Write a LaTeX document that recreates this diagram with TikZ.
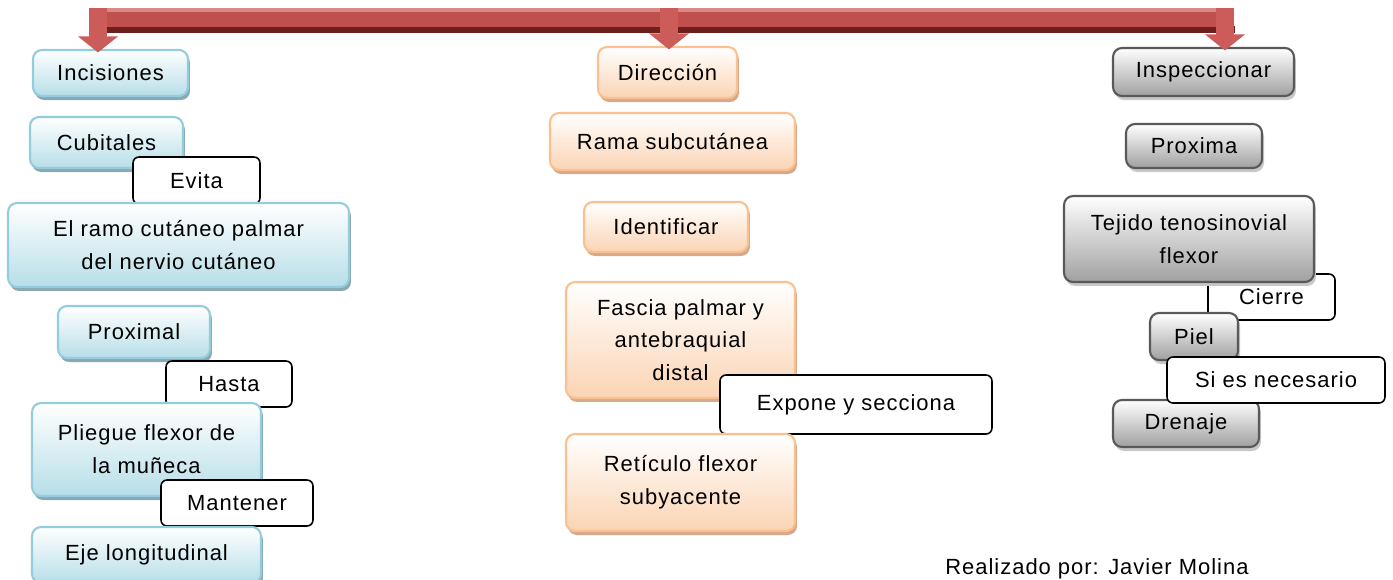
\documentclass[tikz,border=0pt]{standalone}
\usepackage{fontspec}
\setmainfont[LetterSpace=4.5]{Liberation Sans}
\usetikzlibrary{arrows.meta,shadows}
\definecolor{barred}{HTML}{C0504D}
\definecolor{bardark}{HTML}{6E1F1D}
\definecolor{barlight}{HTML}{D98A88}
\definecolor{stemred}{HTML}{CB5C59}
\definecolor{bluedraw}{HTML}{93CDDD}
\definecolor{bluefill}{HTML}{B7DEE8}
\definecolor{blueshadow}{HTML}{8AA8B2}
\definecolor{orangedraw}{HTML}{FAC08F}
\definecolor{orangefill}{HTML}{FBD4B4}
\definecolor{orangeshadow}{HTML}{D4A98C}
\definecolor{graydraw}{HTML}{595959}
\definecolor{grayfill}{HTML}{A0A0A0}
\definecolor{grayshadow}{HTML}{C8C8C8}

\begin{document}
\begin{tikzpicture}[x=0.02cm,y=-0.02cm]
\tikzset{every node/.style={font=\fontsize{12.5}{18.7}\selectfont, align=center, inner sep=0pt}}
\tikzset{bluebox/.style={draw=bluedraw, line width=1.2pt, rounded corners=0.18cm, top color=white, bottom color=bluefill,
        drop shadow={shadow xshift=0.04cm, shadow yshift=-0.08cm, fill=blueshadow, opacity=1}}}
\tikzset{orangebox/.style={draw=orangedraw, line width=1.2pt, rounded corners=0.18cm, top color=white, bottom color=orangefill,
        drop shadow={shadow xshift=0.04cm, shadow yshift=-0.08cm, fill=orangeshadow, opacity=1}}}
\tikzset{graybox/.style={draw=graydraw, line width=1.2pt, rounded corners=0.18cm, top color=white, bottom color=grayfill,
        drop shadow={shadow xshift=0.04cm, shadow yshift=-0.08cm, fill=grayshadow, opacity=1}}}
\tikzset{tagbox/.style={draw=black, line width=0.9pt, rounded corners=0.12cm, fill=white}}
\tikzset{stem/.style={stemred, line width=0.36cm, shorten >=-0.07cm, -{Triangle[width=0.78cm, length=0.32cm]}}}
        \useasboundingbox (0,0) rectangle (1393,579);

        \fill[bardark] (89,26) rectangle (1235,33);
        \fill[barred] (89,8) rectangle (1233,27);
        \fill[barlight] (89,8) rectangle (1233,12);
        \coordinate (sl) at (98,8);
        \coordinate (sm) at (669,8);
        \coordinate (sr) at (1225,8);

        \node[bluebox, minimum width=3.1cm, minimum height=0.92cm] (inc) at (110.5,73) {Incisiones};
        \node[bluebox, minimum width=3.06cm, minimum height=1.02cm] (cub) at (106.5,142.5) {Cubitales};
        \node[tagbox, minimum width=2.54cm, minimum height=0.94cm] (evita) at (196.5,180.5) {Evita};
        \node[bluebox, minimum width=6.82cm, minimum height=1.68cm] (ramo) at (178.5,245) {El ramo cutáneo palmar\\del nervio cutáneo};
        \node[bluebox, minimum width=3.04cm, minimum height=1.04cm] (prox) at (134,332) {Proximal};
        \node[tagbox, minimum width=2.52cm, minimum height=0.92cm] (hasta) at (229,384) {Hasta};
        \node[bluebox, minimum width=4.58cm, minimum height=1.86cm] (pliegue) at (146.5,449.5) {Pliegue flexor de\\la muñeca};
        \node[tagbox, minimum width=3.04cm, minimum height=0.92cm] (mant) at (237,503) {Mantener};
        \node[bluebox, minimum width=4.58cm, minimum height=1.12cm] (eje) at (146.5,555) {Eje longitudinal};

        \node[orangebox, minimum width=2.78cm, minimum height=1.02cm] (dir) at (667.5,72.5) {Dirección};
        \node[orangebox, minimum width=4.9cm, minimum height=1.14cm] (rama) at (672.5,141.5) {Rama subcutánea};
        \node[orangebox, minimum width=3.28cm, minimum height=1.0cm] (ident) at (666,227) {Identificar};
        \node[orangebox, minimum width=4.58cm, minimum height=2.32cm] (fascia) at (680.5,340) {Fascia palmar y\\antebraquial\\distal};
        \node[tagbox, minimum width=5.44cm, minimum height=1.18cm] (expone) at (856,404.5) {Expone y secciona};
        \node[orangebox, minimum width=4.58cm, minimum height=1.94cm] (retic) at (680.5,482.5) {Retículo flexor\\subyacente};

        \node[graybox, minimum width=3.62cm, minimum height=0.96cm] (insp) at (1203.5,72) {Inspeccionar};
        \node[graybox, minimum width=2.72cm, minimum height=0.88cm] (proxa) at (1194,146) {Proxima};
        \node[tagbox, minimum width=2.54cm, minimum height=0.92cm] (cierre) at (1271.5,297) {Cierre};
        \node[graybox, minimum width=5.0cm, minimum height=1.72cm] (tejido) at (1189,239) {Tejido tenosinovial\\flexor};
        \node[graybox, minimum width=1.76cm, minimum height=0.94cm] (piel) at (1194,336.5) {Piel};
        \node[graybox, minimum width=2.92cm, minimum height=0.94cm] (dren) at (1186,423.5) {Drenaje};
        \node[tagbox, minimum width=4.36cm, minimum height=0.92cm] (sies) at (1276,380) {Si es necesario};

        \draw[stem] (sl) -- (sl |- inc.north);
        \draw[stem] (sm) -- (sm |- dir.north);
        \draw[stem] (sr) -- (sr |- insp.north);

        \node[anchor=base west] (autor) at (945,574) {Realizado por: Javier Molina};
\end{tikzpicture}
\end{document}
